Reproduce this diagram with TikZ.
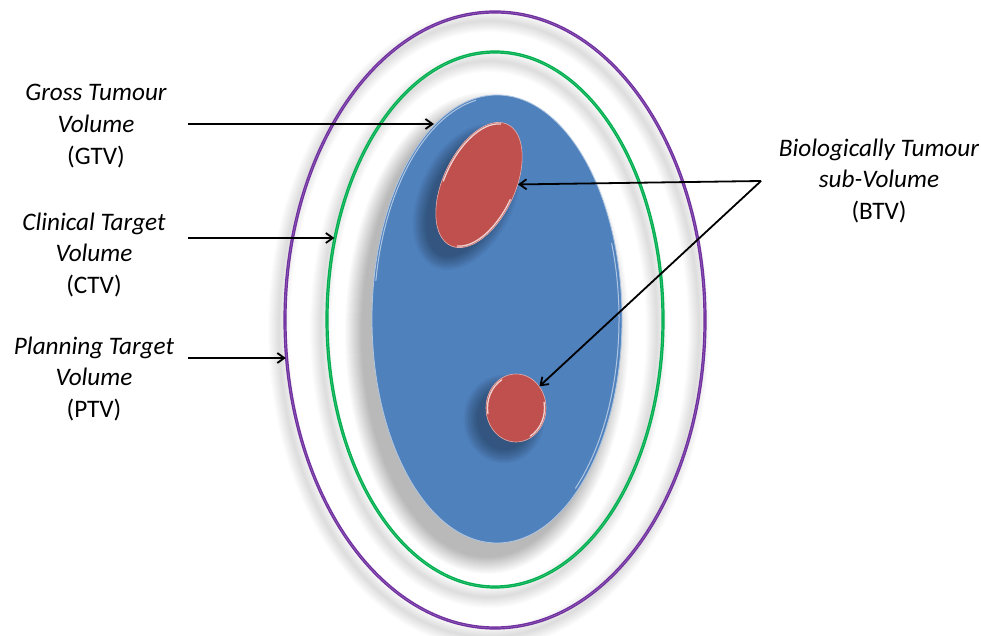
\documentclass[tikz,border=0pt]{standalone}
\usepackage{fontspec}
\setmainfont{Carlito}
\usetikzlibrary{arrows.meta,shapes.geometric}
\definecolor{tvPurple}{RGB}{112,48,160}
\definecolor{tvGreen}{RGB}{0,176,80}
\definecolor{tvBlue}{RGB}{79,129,189}
\definecolor{tvRed}{RGB}{192,80,77}

\begin{document}
\begin{tikzpicture}[
  x=1pt, y=1pt,
  ring/.style={draw=#1, ellipse, line width=1.4pt, double=#1!70!white, double distance=.4pt, inner sep=0pt},
  blob/.style={ellipse, fill=tvRed, draw=tvRed!45!white, line width=.6pt, inner sep=0pt},
  lab/.style={align=center, font=\fontsize{25.2}{31.8}\selectfont\itshape},
  arr/.style={line width=1.8pt, -{Straight Barb[length=7pt, width=10pt]}},
  shad/.style={black, opacity=#1},
  hil/.style={white, opacity=.75, line width=1.3pt, line cap=round}
]
\path[use as bounding box, fill=white] (0,0) rectangle (981,636);

% soft shadows of the rings
\foreach \w in {2,4,...,22} {
  \draw[shad=.011, line width=\w pt] (489,307) ellipse [x radius=210, y radius=308];
  \draw[shad=.011, line width=\w pt] (489,307) ellipse [x radius=168, y radius=268];
}

\node[ring=tvPurple, minimum width=420pt, minimum height=616pt] (ptv) at (495,316) {};
\node[ring=tvGreen, minimum width=336pt, minimum height=535pt] (ctv) at (495,316.5) {};

% shadow and body of the gross volume
\foreach \g in {0,1,...,17}
  \fill[shad=.015] (487,303) ellipse [x radius=125+\g, y radius=224+\g];
\node[ellipse, fill=tvBlue, draw=tvBlue!45!white, line width=.8pt, inner sep=0pt,
      minimum width=250pt, minimum height=448pt] (gtv) at (497,317) {};
\draw[hil, opacity=.55, line width=1pt] ([shift={(100:123 and 222)}]gtv.center) arc[start angle=100, end angle=170, x radius=123, y radius=222];
\draw[hil, opacity=.55, line width=1pt] ([shift={(-50:122 and 221)}]gtv.center) arc[start angle=-50, end angle=20, x radius=122, y radius=221];

% sub-volumes
\foreach \g in {0,1.5,...,13.5} {
  \fill[shad=.035, shift={(467,439)}, rotate=-25] (0,0) ellipse [x radius=34+\g, y radius=64+\g];
  \fill[shad=.035] (504,217) ellipse [x radius=27+\g, y radius=31+\g];
}
\node[blob, minimum width=72pt, minimum height=134pt, rotate=-25] (btv1) at (479,451) {};
\node[blob, minimum width=60pt, minimum height=68pt] (btv2) at (516,228) {};

\begin{scope}[shift={(479,451)}, rotate=-25]
  \draw[hil] (100:34.5 and 65.5) arc[start angle=100, end angle=190, x radius=34.5, y radius=65.5];
  \draw[hil] (-80:34.5 and 65.5) arc[start angle=-80, end angle=0, x radius=34.5, y radius=65.5];
\end{scope}
\begin{scope}[shift={(516,228)}]
  \draw[hil] (120:28.5 and 32.5) arc[start angle=120, end angle=190, x radius=28.5, y radius=32.5];
  \draw[hil] (-60:28.5 and 32.5) arc[start angle=-60, end angle=10, x radius=28.5, y radius=32.5];
\end{scope}

% labels
\node[lab] (gtvlab) at (96,510) {Gross Tumour\\Volume\\\textup{(GTV)}};
\node[lab] (ctvlab) at (94,381) {Clinical Target\\Volume\\\textup{(CTV)}};
\node[lab] (ptvlab) at (94,257) {Planning Target\\Volume\\\textup{(PTV)}};
\node[lab] (btvlab) at (879,455) {Biologically Tumour\\sub-Volume\\\textup{(BTV)}};

\coordinate (gtvfrom) at (188,512);
\coordinate (ctvfrom) at (188,398);
\coordinate (ptvfrom) at (188,278);
\coordinate (btvfrom) at (761,455);

\draw[arr] (gtvfrom) -- (gtv.108 |- gtvfrom);
\draw[arr] (ctvfrom) -- (ctv.153 |- ctvfrom);
\draw[arr] (ptvfrom) -- (ptv.190 |- ptvfrom);
\draw[arr] (btvfrom) -- (btv1);
\draw[arr] (btvfrom) -- (btv2);
\end{tikzpicture}
\end{document}
